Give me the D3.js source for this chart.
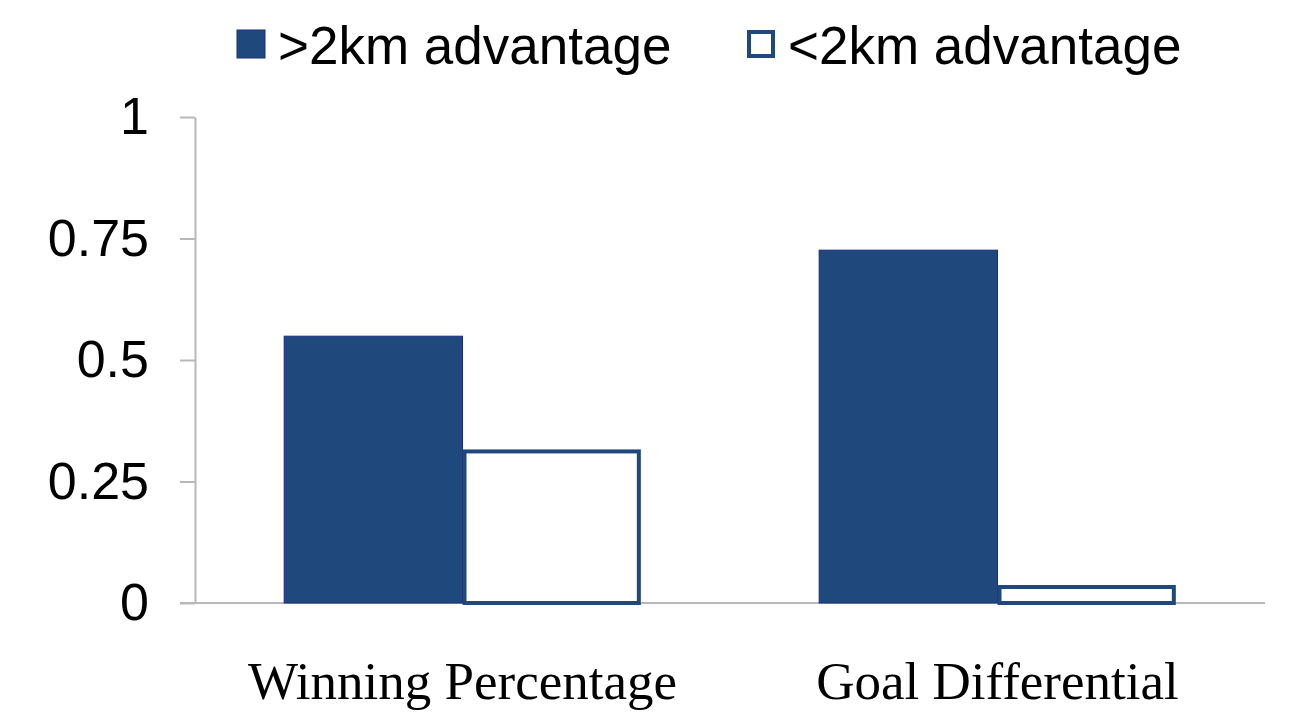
<!DOCTYPE html>
<html>
<head>
<meta charset="utf-8">
<script src="https://cdn.jsdelivr.net/npm/d3@7"></script>
<style>
    body { margin: 0; background: #fff; }
    .axis path, .axis line { stroke: #b8b8b8; stroke-width: 2; }
    .axis text { font-family: "Liberation Sans", Arial, sans-serif; font-size: 52px; fill: #000; }
    .cat { font-family: "Liberation Serif", "Times New Roman", serif; font-size: 53px; fill: #000; }
    .legend text { font-family: "Liberation Sans", Arial, sans-serif; font-size: 53px; fill: #000; }
</style>
</head>
<body>
<svg id="chart" width="1290" height="715"></svg>
<script>

var categories = ["Winning Percentage", "Goal Differential"];
var series = [">2km advantage", "<2km advantage"];
var overValues = [0.549, 0.726];
var underValues = [0.316, 0.037];
var tickValues = [0, 0.25, 0.5, 0.75, 1];
var tickLabels = ["0", "0.25", "0.5", "0.75", "1"];

barChart();

function barChart() {

    var svg = d3.select("#chart"),
        margin = {top: 117, right: 25, bottom: 112, left: 195},
        width = +svg.attr("width") - margin.left - margin.right,
        height = +svg.attr("height") - margin.top - margin.bottom;

    var g = svg.append("g")
        .attr("transform", "translate(" + margin.left + "," + margin.top + ")");

    var x0 = d3.scaleBand().domain(categories).range([0, width]),
        x1 = d3.scaleBand().domain(series).range([0, x0.bandwidth()]).paddingOuter(0.5),
        y = d3.scaleLinear().domain([0, 1]).range([height, 0]);

    var data = categories.map(function (c, i) {
        return {category: c, values: [overValues[i], underValues[i]]};
    });

    // y axis
    g.append("g")
        .attr("class", "axis axis--y")
        .call(d3.axisLeft(y)
            .tickValues(tickValues)
            .tickFormat(function (d, i) { return tickLabels[i]; })
            .tickSize(15)
            .tickSizeOuter(0)
            .tickPadding(31));

    // baseline
    g.append("line")
        .attr("class", "baseline")
        .attr("x1", -15)
        .attr("x2", width)
        .attr("y1", y(0))
        .attr("y2", y(0))
        .attr("stroke", "#b8b8b8")
        .attr("stroke-width", 2);

    var groups = g.selectAll(".group")
        .data(data)
        .enter().append("g")
        .attr("class", "group")
        .attr("transform", function (d) { return "translate(" + x0(d.category) + ",0)"; });

    // filled bars
    groups.append("rect")
        .attr("x", x1(series[0]))
        .attr("y", function (d) { return y(d.values[0]); })
        .attr("width", x1.bandwidth())
        .attr("height", function (d) { return height - y(d.values[0]); })
        .attr("fill", "#1f497d")
        .attr("stroke", "#1b2a86")
        .attr("stroke-width", 1);

    // outlined bars
    groups.append("rect")
        .attr("x", x1(series[1]) + 2)
        .attr("y", function (d) { return y(d.values[1]) + 2; })
        .attr("width", x1.bandwidth() - 4)
        .attr("height", function (d) { return height - y(d.values[1]) - 2; })
        .attr("fill", "#fff")
        .attr("stroke", "#1f497d")
        .attr("stroke-width", 4);

    // category labels
    g.selectAll(".cat")
        .data(categories)
        .enter().append("text")
        .attr("class", "cat")
        .attr("x", function (d) { return x0(d) + x0.bandwidth() / 2; })
        .attr("y", height + 96)
        .attr("text-anchor", "middle")
        .text(function (d) { return d; });

    // legend
    var legend = svg.append("g").attr("class", "legend");
    var legendX = [237, 747];

    series.forEach(function (s, i) {
        var item = legend.append("g")
            .attr("transform", "translate(" + legendX[i] + ",30)");
        if (i === 0) {
            item.append("rect")
                .attr("width", 28).attr("height", 28)
                .attr("fill", "#1f497d").attr("stroke", "#1b2a86").attr("stroke-width", 1);
        } else {
            item.append("rect")
                .attr("x", 2).attr("y", 2)
                .attr("width", 24).attr("height", 24)
                .attr("fill", "#fff").attr("stroke", "#1f497d").attr("stroke-width", 4);
        }
        item.append("text")
            .attr("x", 41)
            .attr("y", 15)
            .attr("dy", "0.36em")
            .text(s);
    });
}

</script>
</body>
</html>
